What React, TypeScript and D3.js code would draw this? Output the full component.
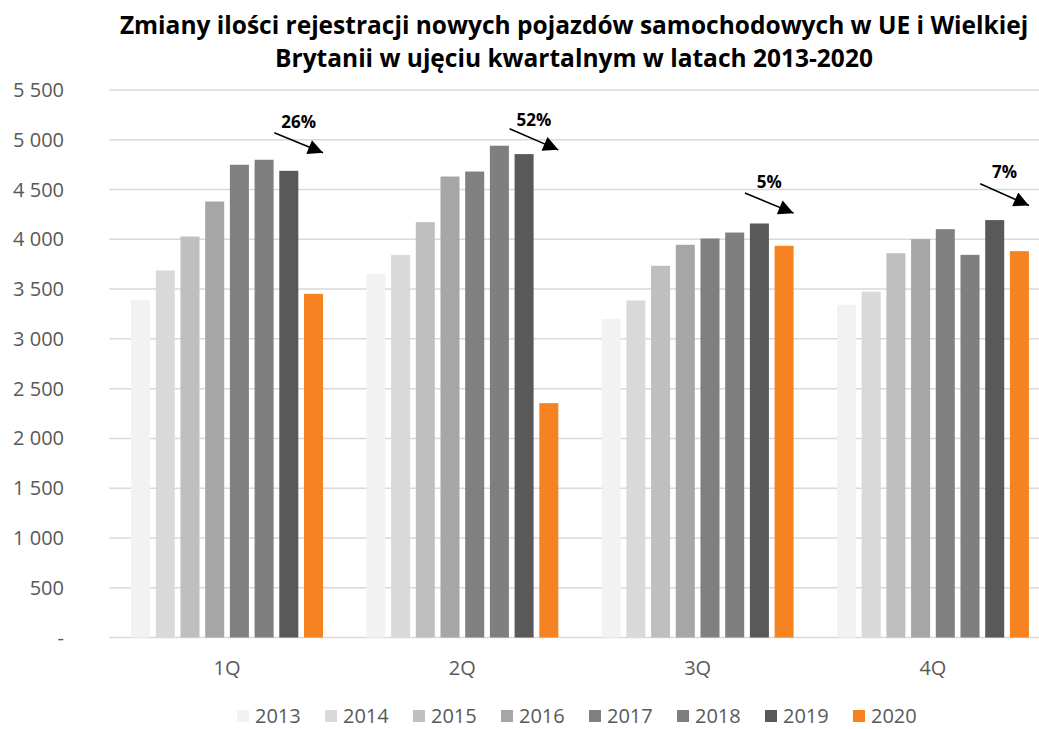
import { useEffect, useRef } from "react";
import * as d3 from "d3";

const W = 1039;
const H = 729;

const QUARTERS = ["1Q", "2Q", "3Q", "4Q"];
const YEARS = ["2013", "2014", "2015", "2016", "2017", "2018", "2019", "2020"];

// registrations per quarter, one array per year (thousands)
const V2013 = [3392, 3653, 3201, 3342];
const V2014 = [3687, 3844, 3385, 3475];
const V2015 = [4028, 4173, 3734, 3861];
const V2016 = [4380, 4631, 3945, 4002];
const V2017 = [4749, 4681, 4008, 4102];
const V2018 = [4799, 4940, 4068, 3844];
const V2019 = [4688, 4856, 4159, 4193];
const V2020 = [3452, 2354, 3935, 3881];
const SERIES = [V2013, V2014, V2015, V2016, V2017, V2018, V2019, V2020];

const COLORS = ["#f2f2f2", "#d9d9d9", "#bfbfbf", "#a6a6a6", "#808080", "#7f7f7f", "#595959", "#f58322"];

const Y_TICKS = [0, 500, 1000, 1500, 2000, 2500, 3000, 3500, 4000, 4500, 5000, 5500];

// drop 2019 -> 2020 annotations; arrow levels in data units
const DROP_LABELS = ["26%", "52%", "5%", "7%"];
const ARROW_FROM = [5070, 5111, 4465, 4558];
const ARROW_TO = [4869, 4899, 4263, 4340];
const LABEL_AT = [5120, 5135, 4515, 4615];

const fmt = (v: number) => (v === 0 ? "-" : d3.format(",")(v).replace(/,/g, "\u00a0"));

export default function App() {
  const svgRef = useRef<SVGSVGElement>(null);

  useEffect(() => {
    if (!svgRef.current) return;
    const svg = d3.select(svgRef.current);
    svg.selectAll("*").remove();

    const x = d3.scaleBand().domain(QUARTERS).range([109.4, 1050.6]).padding(0);
    const xs = d3.scaleBand().domain(YEARS).range([0, x.bandwidth()]).paddingInner(0.23).paddingOuter(0.878);
    const y = d3.scaleLinear().domain([0, 5500]).range([637.5, 90]);

    const font = "'Open Sans', sans-serif";

    svg.append("defs").append("marker")
      .attr("id", "arrowhead")
      .attr("markerUnits", "userSpaceOnUse")
      .attr("viewBox", "0 0 10 10")
      .attr("refX", 10).attr("refY", 5)
      .attr("markerWidth", 17).attr("markerHeight", 15)
      .attr("orient", "auto")
      .append("path").attr("d", "M0,0 L10,5 L0,10 Z").attr("fill", "#000");

    // title
    const title = svg.append("text")
      .attr("text-anchor", "middle")
      .attr("font-family", font)
      .attr("font-weight", "700")
      .attr("font-size", 24.5)
      .attr("fill", "#000");
    title.append("tspan").attr("x", 574).attr("y", 34)
      .text("Zmiany ilości rejestracji nowych pojazdów samochodowych w UE i Wielkiej");
    title.append("tspan").attr("x", 574).attr("y", 67)
      .text("Brytanii w ujęciu kwartalnym w latach 2013-2020");

    // gridlines + y labels
    svg.append("g").selectAll("line").data(Y_TICKS).join("line")
      .attr("x1", x.range()[0]).attr("x2", x.range()[1])
      .attr("y1", (d) => y(d)).attr("y2", (d) => y(d))
      .attr("stroke", "#d9d9d9").attr("stroke-width", 1.5);

    svg.append("g").selectAll("text").data(Y_TICKS).join("text")
      .attr("x", 64).attr("y", (d) => y(d) + 7)
      .attr("text-anchor", "end")
      .attr("font-family", font).attr("font-size", 20)
      .attr("fill", "#595959")
      .text((d) => fmt(d));

    // bars
    SERIES.forEach((vals, si) => {
      svg.append("g").selectAll("rect").data(vals).join("rect")
        .attr("x", (_, qi) => (x(QUARTERS[qi]) ?? 0) + (xs(YEARS[si]) ?? 0))
        .attr("y", (d) => y(d))
        .attr("width", xs.bandwidth())
        .attr("height", (d) => y(0) - y(d))
        .attr("fill", COLORS[si]);
    });

    // x labels
    svg.append("g").selectAll("text").data(QUARTERS).join("text")
      .attr("x", (d) => (x(d) ?? 0) + x.bandwidth() / 2)
      .attr("y", 675)
      .attr("text-anchor", "middle")
      .attr("font-family", font).attr("font-size", 20)
      .attr("fill", "#595959")
      .text((d) => d);

    // drop annotations
    QUARTERS.forEach((q, qi) => {
      const x1 = (x(q) ?? 0) + (xs("2019") ?? 0) - 5;
      const x2 = (x(q) ?? 0) + (xs("2020") ?? 0) + xs.bandwidth();
      svg.append("line")
        .attr("x1", x1).attr("y1", y(ARROW_FROM[qi]))
        .attr("x2", x2).attr("y2", y(ARROW_TO[qi]))
        .attr("stroke", "#000").attr("stroke-width", 1.5)
        .attr("marker-end", "url(#arrowhead)");
      svg.append("text")
        .attr("x", (x1 + x2) / 2)
        .attr("y", y(LABEL_AT[qi]))
        .attr("text-anchor", "middle")
        .attr("font-family", font).attr("font-weight", "700").attr("font-size", 17)
        .attr("fill", "#000")
        .text(DROP_LABELS[qi]);
    });

    // legend
    const lg = svg.append("g").selectAll("g").data(YEARS).join("g")
      .attr("transform", (_, i) => `translate(${237 + i * 88},710)`);
    lg.append("rect").attr("width", 12).attr("height", 12).attr("fill", (_, i) => COLORS[i]);
    lg.append("text")
      .attr("x", 18).attr("y", 13)
      .attr("font-family", font).attr("font-size", 20)
      .attr("fill", "#595959")
      .text((d) => d);
  }, []);

  return (
    <svg
      ref={svgRef}
      width={W}
      height={H}
      style={{ position: "absolute", left: 0, top: 0, background: "#fff", display: "block" }}
    />
  );
}
